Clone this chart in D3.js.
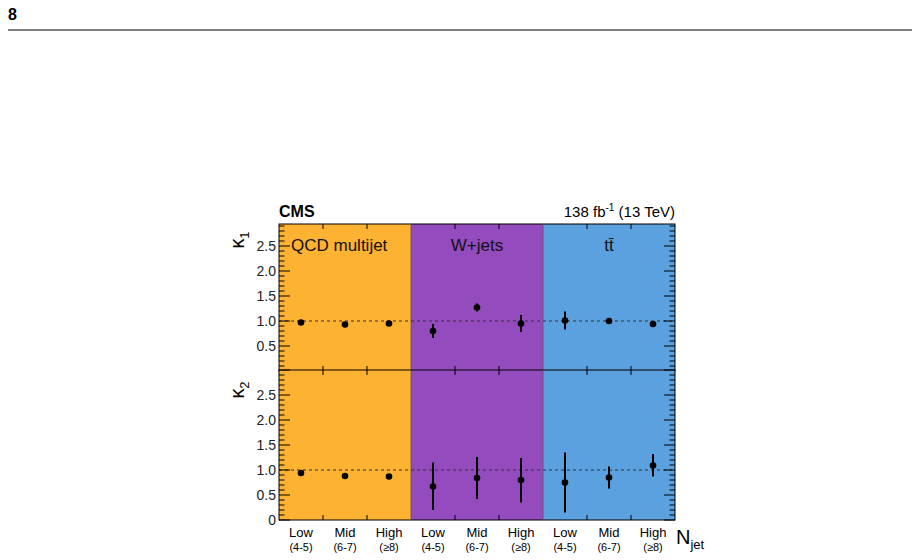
<!DOCTYPE html><html><head><meta charset="utf-8"><script src="https://cdn.jsdelivr.net/npm/d3@7"></script>
<style>body{margin:0;background:#fff}text{font-family:"Liberation Sans",Arial,sans-serif}</style></head><body>
<svg id="c" width="920" height="560"></svg>
<script>
const groups=["QCD multijet","W+jets","tt̄"];
const groupColors=["#fdb232","#944bbd","#5ca1df"];
const binLabels=["Low","Mid","High","Low","Mid","High","Low","Mid","High"];
const binSub=["(4-5)","(6-7)","(≥8)","(4-5)","(6-7)","(≥8)","(4-5)","(6-7)","(≥8)"];
const k1=[0.97,0.93,0.95,0.80,1.27,0.95,1.01,1.00,0.94];
const k1err=[0.02,0.02,0.02,0.14,0.08,0.17,0.18,0.06,0.05];
const k2=[0.94,0.88,0.87,0.67,0.84,0.80,0.75,0.85,1.09];
const k2lo=[0.02,0.02,0.02,0.47,0.42,0.45,0.60,0.22,0.22];
const k2hi=[0.02,0.02,0.02,0.48,0.42,0.44,0.60,0.22,0.23];
const yTicks1=[0.5,1.0,1.5,2.0,2.5];
const yTicks2=[0,0.5,1.0,1.5,2.0,2.5];

const svg=d3.select("#c");
svg.append("text").attr("x",8).attr("y",20).attr("font-size",16).attr("font-weight","bold").text("8");
svg.append("line").attr("x1",8).attr("x2",912).attr("y1",30).attr("y2",30).attr("stroke","#000");
const x=d3.scaleLinear().domain([0,9]).range([279,675]);
const panels=[
 {y:d3.scaleLinear().domain([0,2.94]).range([371,224]),v:k1,lo:k1err,hi:k1err,ticks:yTicks1,fmt:d3.format(".1f"),lab:"κ",sub:"1",ly:240},
 {y:d3.scaleLinear().domain([0,3]).range([520,370]),v:k2,lo:k2lo,hi:k2hi,ticks:yTicks2,fmt:d=>d===0?"0":d3.format(".1f")(d),lab:"κ",sub:"2",ly:390}];
panels.forEach(p=>{
 const [y0,y1]=p.y.range();
 groups.forEach((g,i)=>svg.append("rect").attr("x",x(i*3)).attr("width",x(3)-x(0)).attr("y",y1).attr("height",y0-y1).attr("fill",groupColors[i]));
 svg.append("line").attr("x1",x(0)).attr("x2",x(9)).attr("y1",p.y(1)).attr("y2",p.y(1)).attr("stroke","#333").attr("stroke-dasharray","3,3");
 p.v.forEach((v,i)=>{
  svg.append("line").attr("x1",x(i+0.5)).attr("x2",x(i+0.5)).attr("y1",p.y(v-p.lo[i])).attr("y2",p.y(v+p.hi[i])).attr("stroke","#000").attr("stroke-width",2);
  svg.append("circle").attr("cx",x(i+0.5)).attr("cy",p.y(v)).attr("r",3.3).attr("fill","#000");
 });
 svg.append("rect").attr("x",x(0)).attr("y",y1).attr("width",x(9)-x(0)).attr("height",y0-y1).attr("fill","none").attr("stroke","#000").attr("stroke-width",1);
 const top=p.y.domain()[1];
 for(let t=0;t<=top+1e-9;t+=0.1){const major=Math.abs(t*2-Math.round(t*2))<1e-6;const L=major?11:5.5;
  svg.append("line").attr("x1",x(0)).attr("x2",x(0)+L).attr("y1",p.y(t)).attr("y2",p.y(t)).attr("stroke","#000");
  svg.append("line").attr("x1",x(9)).attr("x2",x(9)-L).attr("y1",p.y(t)).attr("y2",p.y(t)).attr("stroke","#000");}
 for(let i=1;i<9;i++){const L=i%3?5:0;
  svg.append("line").attr("x1",x(i)).attr("x2",x(i)).attr("y1",y0).attr("y2",y0-L).attr("stroke","#000");
  svg.append("line").attr("x1",x(i)).attr("x2",x(i)).attr("y1",y1).attr("y2",y1+L).attr("stroke","#000");}
 for(let i=1;i<3;i++)svg.append("line").attr("x1",x(i*3)).attr("x2",x(i*3)).attr("y1",y0).attr("y2",y1).attr("stroke","#555").attr("stroke-width",0.8);
 p.ticks.forEach(t=>svg.append("text").attr("x",x(0)-3).attr("y",p.y(t)+5).attr("text-anchor","end").attr("font-size",14).attr("fill","#222").text(p.fmt(t)));
 const lt=svg.append("text").attr("transform",`translate(244,${p.ly}) rotate(-90)`).attr("text-anchor","middle").attr("font-size",20);
 lt.append("tspan").text(p.lab);lt.append("tspan").attr("font-size",13).attr("dy",5).text(p.sub);
});
groups.forEach((g,i)=>svg.append("text").attr("x",i==0?291:x(i*3+1.5)).attr("y",251).attr("text-anchor",i==0?"start":"middle").attr("font-size",17).attr("fill","#111").text(g));
svg.append("text").attr("x",279).attr("y",217).attr("font-size",16).attr("font-weight","bold").text("CMS");
const lum=svg.append("text").attr("x",675).attr("y",217).attr("text-anchor","end").attr("font-size",15);
lum.append("tspan").text("138 fb");lum.append("tspan").attr("font-size",10).attr("dy",-6).text("-1");lum.append("tspan").attr("dy",6).text(" (13 TeV)");
binLabels.forEach((b,i)=>{svg.append("text").attr("x",x(i+0.5)).attr("y",537).attr("text-anchor","middle").attr("font-size",13).text(b);
 svg.append("text").attr("x",x(i+0.5)).attr("y",551).attr("text-anchor","middle").attr("font-size",11).text(binSub[i]);});
const nj=svg.append("text").attr("x",676).attr("y",544).attr("font-size",20);
nj.append("tspan").text("N");nj.append("tspan").attr("font-size",13).attr("dy",5).text("jet");
</script></body></html>
